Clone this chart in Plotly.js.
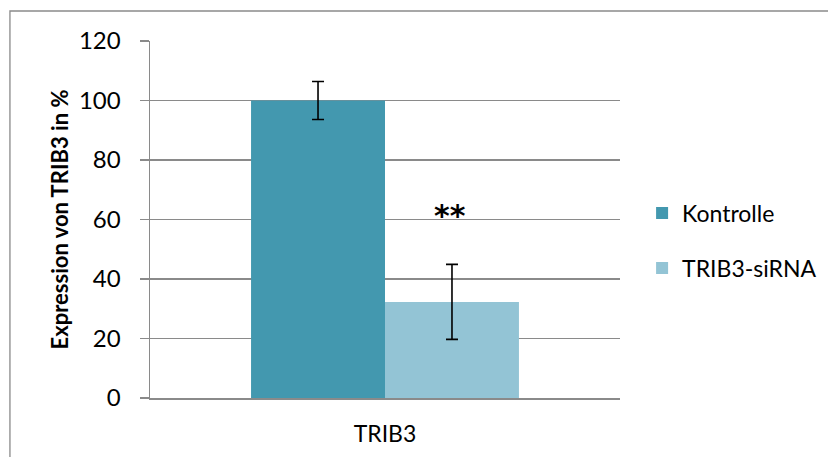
<!DOCTYPE html>
<html>
<head>
<meta charset="utf-8">
<script src="https://cdn.plot.ly/plotly-3.0.1.min.js"></script>
<style>
  html, body { margin: 0; padding: 0; background: #fff; }
  #chart { width: 828px; height: 457px; }
</style>
</head>
<body>
<div id="chart"></div>
<script>
// Relative TRIB3 expression after siRNA knockdown
const categories = ['TRIB3'];
const seriesNames = ['Kontrolle', 'TRIB3-siRNA'];
const kontrolleValues = [100];
const kontrolleErrors = [6.4];
const sirnaValues = [32.3];
const sirnaErrors = [12.6];
const significanceLabel = '**';
const yTickValues = [0, 20, 40, 60, 80, 100, 120];

const FONT = 'Lato, "Open Sans", "Liberation Sans", sans-serif';
const GRID = '#8a8a8a';

const errStyle = { type: 'data', visible: true, color: '#000', thickness: 1.6, width: 6 };

const traces = [
  {
    type: 'bar',
    name: seriesNames[0],
    x: categories,
    y: kontrolleValues,
    error_y: Object.assign({ array: kontrolleErrors }, errStyle),
    marker: { color: '#4398af' },
    legendgroup: 'a',
    hoverinfo: 'skip'
  },
  {
    type: 'bar',
    name: seriesNames[1],
    x: categories,
    y: sirnaValues,
    error_y: Object.assign({ array: sirnaErrors }, errStyle),
    marker: { color: '#93c4d5' },
    legendgroup: 'b',
    hoverinfo: 'skip'
  }
];

const layout = {
  width: 828,
  height: 457,
  margin: { l: 150, r: 208, t: 41, b: 59, pad: 0, autoexpand: false },
  paper_bgcolor: '#fff',
  plot_bgcolor: '#fff',
  font: { family: FONT, color: '#000', size: 23 },
  barmode: 'group',
  bargap: 0.43,
  bargroupgap: 0,
  showlegend: true,
  legend: {
    x: 1.047, xanchor: 'left', xref: 'paper',
    y: 0.578, yanchor: 'top', yref: 'paper',
    font: { family: FONT, size: 23, color: '#000' },
    traceorder: 'grouped',
    tracegroupgap: 22,
    bgcolor: 'rgba(0,0,0,0)',
    itemclick: false
  },
  xaxis: {
    type: 'category',
    showline: true,
    linecolor: GRID,
    linewidth: 2,
    ticks: '',
    ticklabelstandoff: 14,
    tickfont: { family: FONT, size: 23, color: '#000' },
    showgrid: false,
    zeroline: false,
    fixedrange: true
  },
  yaxis: {
    range: [0, 120],
    tickvals: yTickValues,
    ticktext: yTickValues.map(String),
    showline: true,
    linecolor: GRID,
    linewidth: 1.5,
    ticks: 'outside',
    ticklen: 9,
    tickwidth: 1.5,
    tickcolor: GRID,
    ticklabelstandoff: 14,
    tickfont: { family: FONT, size: 24, color: '#000' },
    showgrid: true,
    gridcolor: GRID,
    gridwidth: 1.5,
    zeroline: false,
    fixedrange: true,
    title: {
      text: '<b>Expression von TRIB3 in %</b>',
      font: { family: FONT, size: 22, color: '#000' },
      standoff: 4
    }
  },
  annotations: [
    {
      x: 0.139, xref: 'x',
      y: 61.5, yref: 'y',
      text: '<b>' + significanceLabel + '</b>',
      showarrow: false,
      font: { family: '"DejaVu Sans", sans-serif', size: 30, color: '#000' },
      xanchor: 'center', yanchor: 'middle'
    }
  ],
  shapes: [
    {
      type: 'rect', xref: 'paper', yref: 'paper',
      x0: -0.298, x1: 1.5, y0: -0.3, y1: 1.084,
      line: { color: GRID, width: 1.3 },
      fillcolor: 'rgba(0,0,0,0)',
      layer: 'below'
    }
  ]
};

Plotly.newPlot('chart', traces, layout, { staticPlot: true, displayModeBar: false });
</script>
</body>
</html>
